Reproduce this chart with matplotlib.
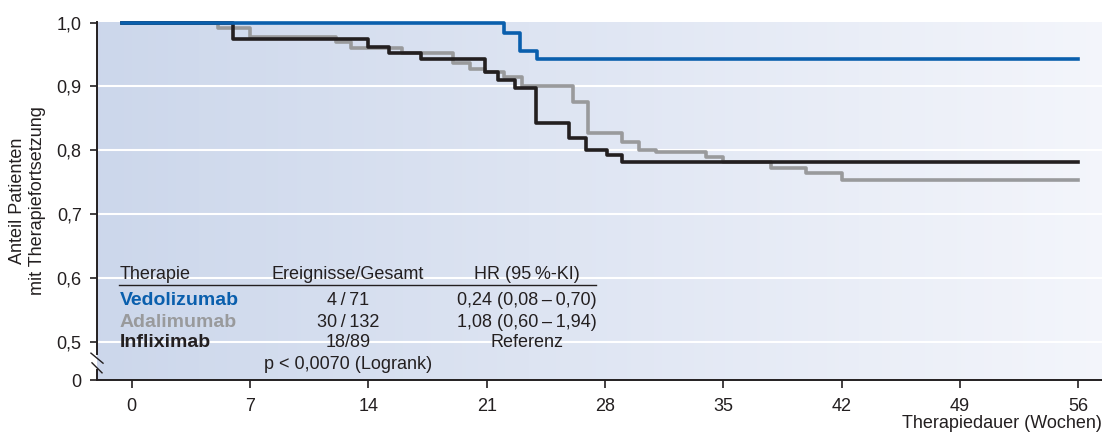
import matplotlib.pyplot as plt
import numpy as np

# Kaplan-Meier steps (weeks, share still on therapy)
vedo_t = [-0.55, 22.0, 23.0, 24.0, 56.0]
vedo_s = [1.0, 0.983, 0.955, 0.943, 0.943]

ada_t = [-0.55, 5.1, 7.0, 12.1, 13.0, 16.0, 19.0, 20.0, 20.9, 22.0, 23.1,
         26.1, 27.0, 29.0, 30.0, 31.0, 34.0, 35.0, 37.8, 39.9, 42.0, 56.0]
ada_s = [1.0, 0.992, 0.978, 0.969, 0.960, 0.952, 0.936, 0.927, 0.922, 0.915, 0.901,
         0.875, 0.827, 0.813, 0.800, 0.797, 0.789, 0.781, 0.772, 0.764, 0.753, 0.753]

inf_t = [-0.55, 6.0, 14.0, 15.2, 17.1, 20.9, 21.7, 22.7, 23.9, 25.9, 26.9,
         28.1, 29.0, 56.0]
inf_s = [1.0, 0.974, 0.962, 0.952, 0.943, 0.923, 0.910, 0.898, 0.842, 0.820, 0.801,
         0.792, 0.782, 0.782]

x_ticks = [0, 7, 14, 21, 28, 35, 42, 49, 56]
y_ticks = [0.44, 0.5, 0.6, 0.7, 0.8, 0.9, 1.0]
y_labels = ['0', '0,5', '0,6', '0,7', '0,8', '0,9', '1,0']

therapies = ['Vedolizumab', 'Adalimumab', 'Infliximab']
events = ['4\u2009/\u200971', '30\u2009/\u2009132', '18/89']
hr = ['0,24 (0,08\u2009\u2013\u20090,70)', '1,08 (0,60\u2009\u2013\u20091,94)', 'Referenz']
header = ['Therapie', 'Ereignisse/Gesamt', 'HR (95\u2009%-KI)']
pval = 'p < 0,0070 (Logrank)'

BLUE = '#0a5fad'
GREY = '#999a9c'
BLACK = '#231f20'
FS = 13

plt.rcParams['font.family'] = ['Liberation Sans', 'DejaVu Sans']

fig = plt.figure(figsize=(11.02, 4.36), dpi=100)
ax = fig.add_axes([97 / 1102, 56 / 436, 1005 / 1102, 358 / 436])
ax.set_xlim(-2.05, 57.4)
ax.set_ylim(0.44, 1.001)

# background gradient, darker blue on the left
grad = np.linspace(0, 1, 256)[None, :, None]
c0 = np.array([0.80, 0.843, 0.922])
c1 = np.array([0.955, 0.962, 0.985])
img = c0 + (c1 - c0) * grad
ax.imshow(img, extent=[0, 1, 0, 1], transform=ax.transAxes, aspect='auto', zorder=0)

for y in y_ticks[1:-1]:
    ax.axhline(y, color='white', lw=1.5, zorder=1)

ax.step(ada_t, ada_s, where='post', color=GREY, lw=2.6, zorder=3, clip_on=False)
ax.step(inf_t, inf_s, where='post', color=BLACK, lw=2.6, zorder=4, clip_on=False)
ax.step(vedo_t, vedo_s, where='post', color=BLUE, lw=2.6, zorder=5, clip_on=False)

# axes styling
for s in ['top', 'right']:
    ax.spines[s].set_visible(False)
ax.spines['bottom'].set_color(BLACK)
ax.spines['bottom'].set_linewidth(1.4)
ax.spines['left'].set_color(BLACK)
ax.spines['left'].set_linewidth(1.4)
ax.spines['left'].set_bounds(0.48, 1.001)
ax.plot([0, 0], [0, 0.028], transform=ax.transAxes, color=BLACK, lw=1.4, clip_on=False)
# axis break marks
ax.plot([-0.006, 0.006], [0.075, 0.047], transform=ax.transAxes, color=BLACK, lw=1.0, clip_on=False)
ax.plot([-0.005, 0.005], [0.048, 0.020], transform=ax.transAxes, color=BLACK, lw=1.0, clip_on=False)

ax.set_xticks(x_ticks)
ax.set_xticklabels([str(t) for t in x_ticks])
ax.set_yticks(y_ticks)
ax.set_yticklabels(y_labels)
ax.tick_params(axis='x', direction='out', length=6, width=1.2, pad=7,
               labelsize=FS, colors=BLACK)
ax.tick_params(axis='y', direction='out', length=5, width=1.2, pad=6,
               labelsize=FS, colors=BLACK)

ax.text(-0.069, 0.5, 'Anteil Patienten\nmit Therapiefortsetzung', transform=ax.transAxes,
        rotation=90, ha='center', va='center', fontsize=FS, color=BLACK,
        linespacing=1.25, multialignment='center')
ax.text(1.0, -0.134, 'Therapiedauer (Wochen)', transform=ax.transAxes,
        ha='right', va='baseline', fontsize=FS, color=BLACK)

# table inside the plot
col_x = [-0.69, 12.8, 23.4]
head_y = 0.598
row_y = [0.558, 0.523, 0.491]
p_y = 0.457
row_colors = [BLUE, GREY, BLACK]

ax.text(col_x[0], head_y, header[0], ha='left', va='baseline', fontsize=FS, color=BLACK, zorder=6)
ax.text(col_x[1], head_y, header[1], ha='center', va='baseline', fontsize=FS, color=BLACK, zorder=6)
ax.text(col_x[2], head_y, header[2], ha='center', va='baseline', fontsize=FS, color=BLACK, zorder=6)
ax.plot([-0.75, 27.47], [0.589, 0.589], color=BLACK, lw=1.0, zorder=6)
for i in range(3):
    ax.text(col_x[0], row_y[i], therapies[i], ha='left', va='baseline', fontsize=14,
            fontweight='bold', color=row_colors[i], zorder=6)
    ax.text(col_x[1], row_y[i], events[i], ha='center', va='baseline', fontsize=FS,
            color=BLACK, zorder=6)
    ax.text(col_x[2], row_y[i], hr[i], ha='center', va='baseline', fontsize=FS,
            color=BLACK, zorder=6)
ax.text(col_x[1], p_y, pval, ha='center', va='baseline', fontsize=FS, color=BLACK, zorder=6)

plt.savefig('out.png', dpi=100)
